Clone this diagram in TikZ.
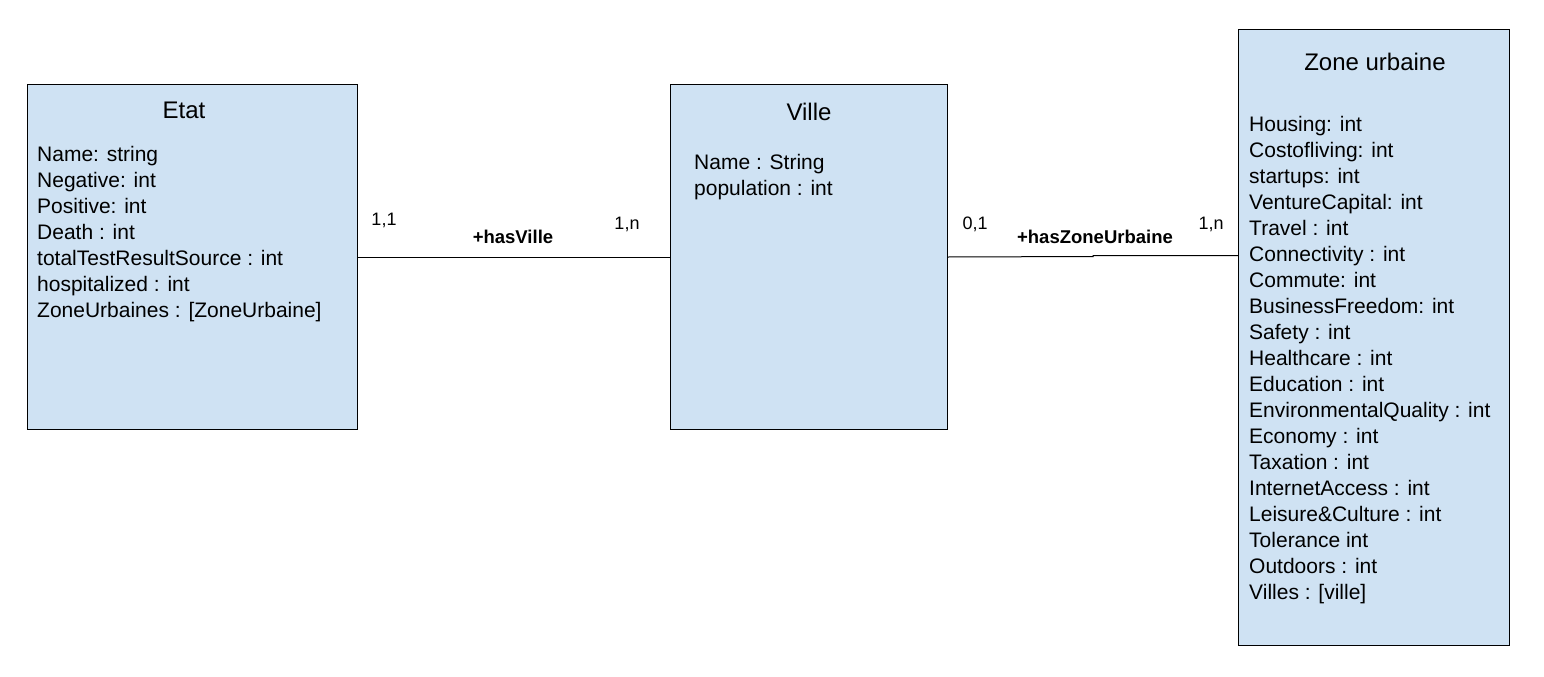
\documentclass[tikz,border=0pt]{standalone}
\usepackage{fontspec}
\setmainfont{Liberation Sans}
\definecolor{boxfill}{HTML}{CFE2F3}
\begin{document}
\begin{tikzpicture}[x=1pt,y=-1pt,
  umlbox/.style={draw=black,line width=1pt,fill=boxfill,inner sep=0pt,anchor=north west},
  title/.style={font=\fontsize{24}{28}\selectfont,anchor=center,inner sep=0pt},
  attr/.style={font=\fontsize{21}{26}\selectfont,anchor=base west,inner sep=0pt},
  mult/.style={font=\fontsize{18}{20}\selectfont,anchor=center,inner sep=0pt},
  assoc/.style={font=\bfseries\fontsize{18.5}{20}\selectfont,anchor=center,inner sep=0pt},
  link/.style={draw=black,line width=1pt}]
\useasboundingbox (0,0) rectangle (1544,677);
% boxes
\node[umlbox,minimum width=330pt,minimum height=345pt] (etat) at (27,84) {};
\node[umlbox,minimum width=277pt,minimum height=345pt] (ville) at (670,84) {};
\node[umlbox,minimum width=271pt,minimum height=616pt] (zone) at (1238,29) {};
% titles
\node[title] (etatT) at (184,110) {Etat};
\node[title] (villeT) at (809,112) {Ville};
\node[title] (zoneT) at (1375,62) {Zone urbaine};
% Etat attributes
\foreach \t [count=\i] in {Name: string,Negative: int,Positive: int,Death : int,totalTestResultSource : int,hospitalized : int,ZoneUrbaines : [ZoneUrbaine]}
  \node[attr] (ea\i) at (37,{161.5+26*(\i-1)}) {\t};
% Ville attributes
\foreach \t [count=\i] in {Name : String,population : int}
  \node[attr] (va\i) at (694,{169.5+26*(\i-1)}) {\t};
% Zone attributes
\foreach \t [count=\i] in {Housing: int,Costofliving: int,startups: int,VentureCapital: int,Travel : int,Connectivity : int,Commute: int,BusinessFreedom: int,Safety : int,Healthcare : int,Education : int,EnvironmentalQuality : int,Economy : int,Taxation : int,InternetAccess : int,Leisure\&Culture : int,Tolerance int,Outdoors : int,Villes : [ville]}
  \node[attr] (za\i) at (1249,{131.5+26*(\i-1)}) {\t};
% connectors
\draw[link] (etat.east) -- (ville.west);
\coordinate (step) at (1093,256.5);
\draw[link] (ville.east) -- (step) -- ++(0,-1) -- (zone.west |- 0,255.5);
% labels
\node[mult] (m1) at (384,220) {1,1};
\node[assoc] (a1) at (513,237) {+hasVille};
\node[mult] (m2) at (627,224) {1,n};
\node[mult] (m3) at (975,224) {0,1};
\node[assoc] (a2) at (1095,237) {+hasZoneUrbaine};
\node[mult] (m4) at (1211,224) {1,n};
\end{tikzpicture}
\end{document}
